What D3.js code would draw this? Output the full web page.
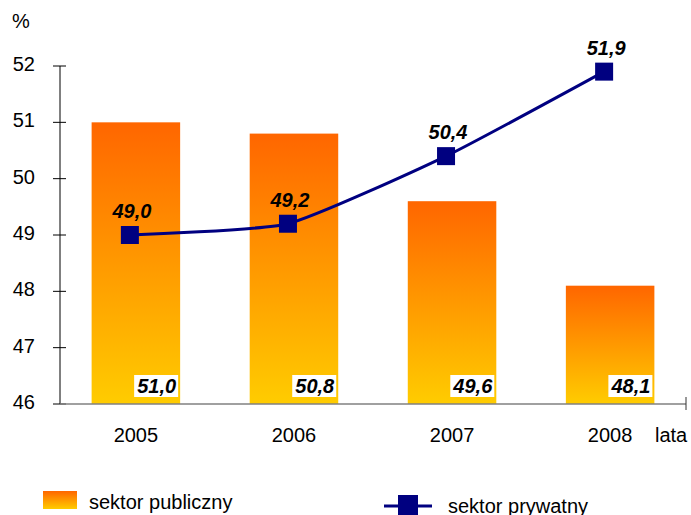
<!DOCTYPE html>
<html>
<head>
<meta charset="utf-8">
<script src="https://cdn.jsdelivr.net/npm/d3@7"></script>
<style>
  body { margin: 0; background: #fff; }
  svg { display: block; font-family: Arial, "Liberation Sans", sans-serif; }
</style>
</head>
<body>
<svg id="chart" width="691" height="515"></svg>
<script>
var years = ["2005", "2006", "2007", "2008"];
var publicSector = [51.0, 50.8, 49.6, 48.1];
var privateSector = [49.0, 49.2, 50.4, 51.9];
var yTicks = [46, 47, 48, 49, 50, 51, 52];

var svg = d3.select("#chart");
var fmt = function (v) { return v.toFixed(1).replace(".", ","); };

var x = d3.scaleBand().domain(years).range([60, 686]).paddingInner(0.44).paddingOuter(0.2);
var y = d3.scaleLinear().domain([46, 52]).range([404, 66]);

// gradient for bars
var defs = svg.append("defs");
var grad = defs.append("linearGradient")
    .attr("id", "barGrad")
    .attr("x1", "0%").attr("y1", "0%")
    .attr("x2", "0%").attr("y2", "100%");
grad.append("stop").attr("offset", "0%").attr("stop-color", "#ff6600");
grad.append("stop").attr("offset", "100%").attr("stop-color", "#ffcc00");

// bars
svg.append("g").selectAll("rect")
    .data(publicSector)
    .enter()
    .append("rect")
    .attr("x", function (d, i) { return x(years[i]); })
    .attr("y", function (d) { return y(d); })
    .attr("width", x.bandwidth())
    .attr("height", function (d) { return y(46) - y(d); })
    .attr("fill", "url(#barGrad)");

// bar value labels
var barLab = svg.append("g").selectAll("g")
    .data(publicSector)
    .enter()
    .append("g")
    .attr("transform", function (d, i) {
        return "translate(" + (x(years[i]) + x.bandwidth() - 2) + "," + (y(46) - 7) + ")";
    });
barLab.append("rect")
    .attr("x", -44).attr("y", -22)
    .attr("width", 44).attr("height", 22)
    .attr("fill", "#fff");
barLab.append("text")
    .attr("x", -2).attr("y", -4)
    .attr("text-anchor", "end")
    .style("font-size", "20px")
    .style("font-weight", "bold")
    .style("font-style", "italic")
    .text(fmt);

// y axis
var yAxis = svg.append("g");
yAxis.append("line")
    .attr("x1", 60).attr("x2", 60)
    .attr("y1", y(52)).attr("y2", y(46))
    .attr("stroke", "#000").attr("stroke-width", 1);
yAxis.selectAll(".tick")
    .data(yTicks)
    .enter()
    .append("line")
    .attr("x1", 53).attr("x2", 66)
    .attr("y1", function (d) { return y(d); })
    .attr("y2", function (d) { return y(d); })
    .attr("stroke", "#000");
yAxis.selectAll("text")
    .data(yTicks)
    .enter()
    .append("text")
    .attr("x", 35)
    .attr("y", function (d) { return y(d) + 5; })
    .attr("text-anchor", "end")
    .style("font-size", "20px")
    .text(function (d) { return d; });
svg.append("text")
    .attr("x", 12).attr("y", 28)
    .style("font-size", "20px")
    .text("%");

// x axis
svg.append("line")
    .attr("x1", 60).attr("x2", 686)
    .attr("y1", y(46)).attr("y2", y(46))
    .attr("stroke", "#808080").attr("stroke-width", 1.5);
svg.append("line")
    .attr("x1", 686).attr("x2", 686)
    .attr("y1", y(46) - 7).attr("y2", y(46) + 6)
    .attr("stroke", "#333");
svg.append("g").selectAll("text")
    .data(years)
    .enter()
    .append("text")
    .attr("x", function (d) { return x(d) + x.bandwidth() / 2; })
    .attr("y", 442)
    .attr("text-anchor", "middle")
    .style("font-size", "20px")
    .text(function (d) { return d; });
svg.append("text")
    .attr("x", 655).attr("y", 442)
    .style("font-size", "20px")
    .text("lata");

// line series
var lx = function (i) { return x(years[i]) + x.bandwidth() / 2 - 6; };
var line = d3.line()
    .x(function (d, i) { return lx(i); })
    .y(function (d) { return y(d); })
    .curve(d3.curveCardinal.tension(0.5));
svg.append("path")
    .datum(privateSector)
    .attr("d", line)
    .attr("fill", "none")
    .attr("stroke", "#000080")
    .attr("stroke-width", 3);
svg.append("g").selectAll("rect")
    .data(privateSector)
    .enter()
    .append("rect")
    .attr("x", function (d, i) { return lx(i) - 9; })
    .attr("y", function (d) { return y(d) - 9; })
    .attr("width", 18).attr("height", 18)
    .attr("fill", "#000080");
svg.append("g").selectAll("text")
    .data(privateSector)
    .enter()
    .append("text")
    .attr("x", function (d, i) { return lx(i) + 2; })
    .attr("y", function (d) { return y(d) - 17; })
    .attr("text-anchor", "middle")
    .style("font-size", "20px")
    .style("font-weight", "bold")
    .style("font-style", "italic")
    .text(fmt);

// legend
var leg = svg.append("g");
leg.append("rect")
    .attr("x", 43).attr("y", 491)
    .attr("width", 34).attr("height", 18)
    .attr("fill", "url(#barGrad)");
leg.append("text")
    .attr("x", 89).attr("y", 509)
    .style("font-size", "20px")
    .text("sektor publiczny");
leg.append("line")
    .attr("x1", 384).attr("x2", 432)
    .attr("y1", 506).attr("y2", 506)
    .attr("stroke", "#000080").attr("stroke-width", 3);
leg.append("rect")
    .attr("x", 398).attr("y", 495)
    .attr("width", 20).attr("height", 20)
    .attr("fill", "#000080");
leg.append("text")
    .attr("x", 448).attr("y", 513)
    .style("font-size", "20px")
    .text("sektor prywatny");
</script>
</body>
</html>
